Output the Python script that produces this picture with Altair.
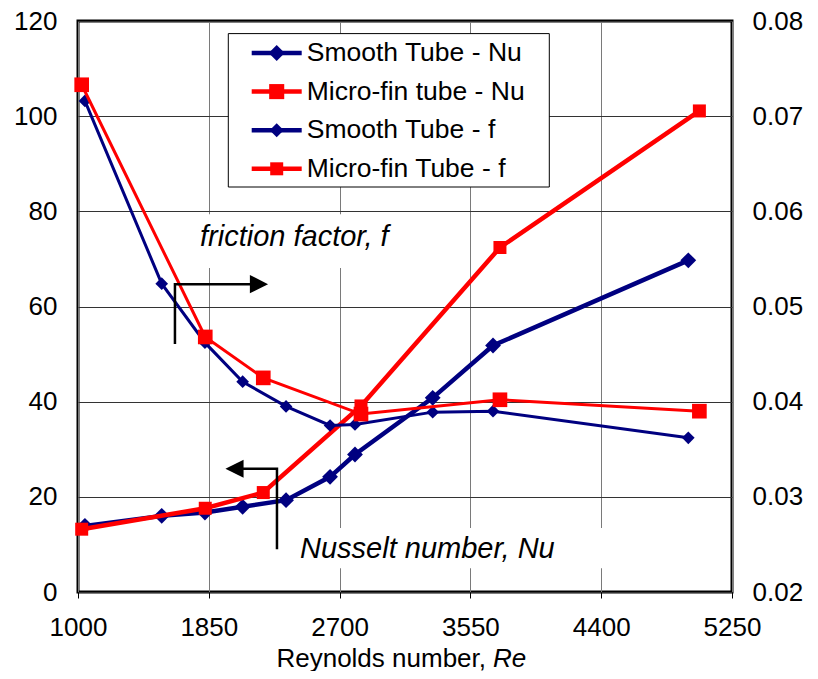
import altair as alt
import pandas as pd

# ---------------- data ----------------
re_smooth = [1045, 1544, 1825, 2070, 2352, 2638, 2800, 3305, 3697, 4966]
nu_smooth = [13.9, 16.0, 16.7, 17.9, 19.3, 24.2, 28.9, 40.8, 51.8, 69.7]
f_smooth = [0.0716, 0.0524, 0.0462, 0.0421, 0.0395, 0.0375, 0.0376, 0.0389, 0.0390, 0.0362]

re_micro = [1024, 1827, 2204, 2839, 3742, 5038]
nu_micro = [13.2, 17.6, 20.9, 39.1, 72.4, 101.1]
f_micro = [0.0733, 0.0468, 0.0425, 0.0387, 0.0402, 0.0390]

series_names = ["Smooth Tube - Nu", "Micro-fin tube - Nu", "Smooth Tube - f", "Micro-fin Tube - f"]
series_colors = ["#000080", "#FF0000", "#000080", "#FF0000"]
series_shapes = ["diamond", "square", "diamond", "square"]

x_ticks = [1000, 1850, 2700, 3550, 4400, 5250]
nu_ticks = [0, 20, 40, 60, 80, 100, 120]
f_ticks = [0.02, 0.03, 0.04, 0.05, 0.06, 0.07, 0.08]

# annotations (in data units: Re, Nu)
ann_texts = ["friction factor, f", "Nusselt number, Nu"]
ann_re = [1793, 2443]
ann_nu = [72.7, 7.1]
# white boxes behind annotation texts
box_re1 = [1760, 2410]
box_re2 = [3125, 4470]
box_nu1 = [68.1, 5.0]
box_nu2 = [79.4, 13.45]
# arrow polylines
arrow_f_re = [1630, 1630, 2118]
arrow_f_nu = [52.1, 64.7, 64.7]
arrow_n_re = [2293, 2293, 2072]
arrow_n_nu = [9.0, 25.9, 25.9]
head_re = [2176, 2017]
head_nu = [64.7, 25.9]
head_dir = ["right", "left"]

FONT = "Liberation Sans, Arial, sans-serif"
W, H = 654, 571

xscale = alt.Scale(domain=[1000, 5250], nice=False, zero=False)
nu_scale = alt.Scale(domain=[0, 120], nice=False, zero=False)
f_scale = alt.Scale(domain=[0.02, 0.08], nice=False, zero=False)

x_axis = alt.Axis(values=x_ticks, grid=True, gridColor="#7a7a7a", gridWidth=1,
                  tickSize=6, tickColor="black", tickWidth=1, domain=False,
                  labelFontSize=26, labelFont=FONT, labelColor="black",
                  labelPadding=16, labelFlush=False, labelOverlap=False,
                  title=None, format="d")
left_axis = alt.Axis(values=nu_ticks, grid=True, gridColor="#333333", gridWidth=1,
                     tickSize=0, domain=False, labelFontSize=26, labelFont=FONT,
                     labelColor="black", labelPadding=21, labelFlush=False,
                     labelOverlap=False, title=None, orient="left")
right_axis = alt.Axis(values=f_ticks, grid=False, tickSize=0, domain=False,
                      labelFontSize=26, labelFont=FONT, labelColor="black",
                      labelPadding=20, labelFlush=False, labelOverlap=False,
                      title=None, orient="right", format=".2f")


def X(field):
    return alt.X(field, scale=xscale, axis=x_axis)


df_sn = pd.DataFrame({"Re": re_smooth, "v": nu_smooth})
df_mn = pd.DataFrame({"Re": re_micro, "v": nu_micro})
df_sf = pd.DataFrame({"Re": re_smooth, "v": f_smooth})
df_mf = pd.DataFrame({"Re": re_micro, "v": f_micro})

layers = []

# white boxes behind annotation text (also carries the left y axis)
df_box = pd.DataFrame({"x1": box_re1, "x2": box_re2, "y1": box_nu1, "y2": box_nu2})
layers.append(
    alt.Chart(df_box).mark_rect(fill="white").encode(
        x=X("x1:Q"),
        x2="x2:Q",
        y=alt.Y("y1:Q", scale=nu_scale, axis=left_axis),
        y2="y2:Q",
    )
)


def series(df, scale, color, width, shape, size, axis=None):
    line = alt.Chart(df).mark_line(color=color, strokeWidth=width).encode(
        x=X("Re:Q"),
        y=alt.Y("v:Q", scale=scale, axis=axis),
    )
    pts = alt.Chart(df).mark_point(shape=shape, filled=True, color=color, size=size, opacity=1).encode(
        x=X("Re:Q"),
        y=alt.Y("v:Q", scale=scale, axis=None),
    )
    return [line, pts]


layers += series(df_sn, nu_scale, "#000080", 4.5, "diamond", 250)
layers += series(df_mn, nu_scale, "#FF0000", 4.5, "square", 169)
layers += series(df_sf, f_scale, "#000080", 3, "diamond", 160, axis=right_axis)
layers += series(df_mf, f_scale, "#FF0000", 3, "square", 215)

# annotation arrows
df_af = pd.DataFrame({"Re": arrow_f_re, "v": arrow_f_nu, "o": [0, 1, 2]})
df_an = pd.DataFrame({"Re": arrow_n_re, "v": arrow_n_nu, "o": [0, 1, 2]})
for d in (df_af, df_an):
    layers.append(
        alt.Chart(d).mark_line(color="black", strokeWidth=2.5).encode(
            x=X("Re:Q"),
            y=alt.Y("v:Q", scale=nu_scale, axis=None),
            order="o:Q",
        )
    )
df_head = pd.DataFrame({"Re": head_re, "v": head_nu, "dir": head_dir})
layers.append(
    alt.Chart(df_head).mark_point(filled=True, color="black", size=330, opacity=1).encode(
        x=X("Re:Q"),
        y=alt.Y("v:Q", scale=nu_scale, axis=None),
        shape=alt.Shape("dir:N", scale=alt.Scale(domain=["right", "left"],
                                                 range=["M-1,-1L1,0L-1,1Z", "M1,-1L-1,0L1,1Z"]),
                        legend=None),
    )
)
df_ann = pd.DataFrame({"Re": ann_re, "v": ann_nu, "t": ann_texts})
layers.append(
    alt.Chart(df_ann).mark_text(align="left", baseline="alphabetic", fontSize=29,
                                fontStyle="italic", font=FONT, color="black").encode(
        x=X("Re:Q"),
        y=alt.Y("v:Q", scale=nu_scale, axis=None),
        text="t:N",
    )
)

# ---------------- legend ----------------
df_leg = pd.DataFrame({"label": series_names})
leg_y = alt.Y("label:N", scale=alt.Scale(domain=series_names, range=[32.0, 147.8], padding=0), axis=None)
leg_color = alt.Color("label:N", scale=alt.Scale(domain=series_names, range=series_colors), legend=None)
layers.append(
    alt.Chart(pd.DataFrame({"a": [0]})).mark_rect(fill="white", stroke="black", strokeWidth=1).encode(
        x=alt.value(150.3), x2=alt.value(471.3), y=alt.value(12.6), y2=alt.value(166.0)
    )
)
# legend line segments (stroked horizontal path symbol)
layers.append(
    alt.Chart(df_leg).mark_point(filled=False, opacity=1, shape="M-1,0L1,0", size=2500).encode(
        x=alt.value(198.7), y=leg_y, color=leg_color,
        strokeWidth=alt.StrokeWidth("label:N", scale=alt.Scale(domain=series_names, range=[4.5, 4.5, 3, 3]), legend=None),
    )
)
layers.append(
    alt.Chart(df_leg).mark_point(filled=True, opacity=1).encode(
        x=alt.value(198.7), y=leg_y, color=leg_color,
        shape=alt.Shape("label:N", scale=alt.Scale(domain=series_names, range=series_shapes), legend=None),
        size=alt.Size("label:N", scale=alt.Scale(domain=series_names, range=[256, 169, 200, 235]), legend=None),
    )
)
layers.append(
    alt.Chart(df_leg).mark_text(align="left", baseline="middle", fontSize=26.5, font=FONT, color="black").encode(
        x=alt.value(228.7), y=leg_y, text="label:N"
    )
)

# ---------------- x-axis title (mixed style) ----------------
layers.append(
    alt.Chart(pd.DataFrame({"t": ["Reynolds number,"]})).mark_text(
        align="right", baseline="alphabetic", fontSize=26, font=FONT, color="black"
    ).encode(x=alt.value(408), y=alt.value(645.5), text="t:N")
)
layers.append(
    alt.Chart(pd.DataFrame({"t": ["Re"]})).mark_text(
        align="left", baseline="alphabetic", fontSize=26, font=FONT, fontStyle="italic", color="black"
    ).encode(x=alt.value(415), y=alt.value(645.5), text="t:N")
)

chart = alt.layer(*layers).resolve_scale(
    y="independent", color="independent", shape="independent",
    size="independent", strokeWidth="independent"
).properties(
    width=W, height=H,
    autosize=alt.AutoSizeParams(type="none"),
    padding={"left": 70, "top": 13, "right": 78, "bottom": 79},
    background="white",
).configure_view(stroke="black", strokeWidth=3)

chart.save("out.html", embed_options={"renderer": "svg", "actions": False})
